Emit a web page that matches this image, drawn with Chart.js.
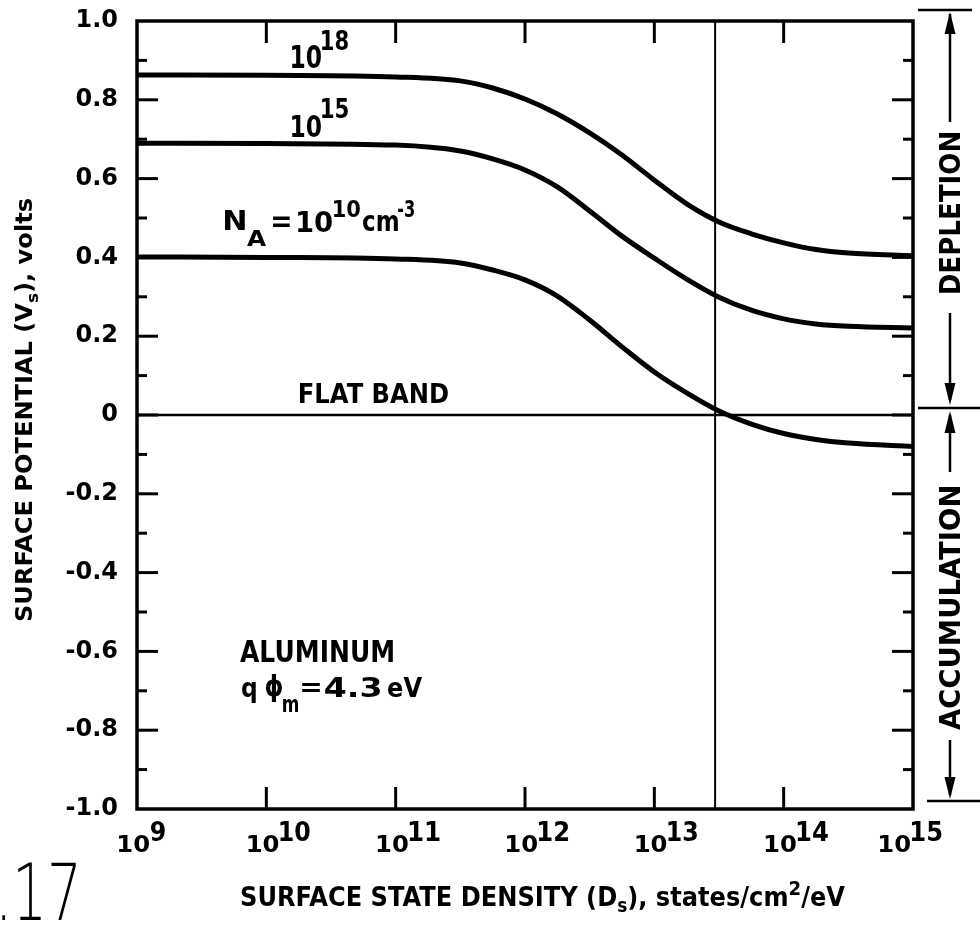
<!DOCTYPE html>
<html>
<head>
<meta charset="utf-8">
<script src="https://cdn.jsdelivr.net/npm/chart.js@4.4.1/dist/chart.umd.min.js"></script>
<style>
  html, body { margin: 0; padding: 0; background: #fff; }
</style>
</head>
<body>
<canvas id="grafica" width="980" height="925"></canvas>
<script>
// exponente de la densidad de estados (10^x)
const densidadExp = [9, 10, 11, 11.5, 11.75, 12, 12.25, 12.5, 12.75, 13, 13.25, 13.5, 13.75, 14, 14.25, 14.5, 15];
// potencial de superficie (V) para cada N_A
const vsNA18 = [0.863, 0.862, 0.858, 0.848, 0.830, 0.802, 0.764, 0.716, 0.660, 0.596, 0.536, 0.490, 0.460, 0.437, 0.420, 0.411, 0.404];
const vsNA15 = [0.690, 0.689, 0.685, 0.670, 0.650, 0.622, 0.579, 0.518, 0.454, 0.398, 0.345, 0.299, 0.266, 0.244, 0.231, 0.225, 0.221];
const vsNA10 = [0.401, 0.400, 0.396, 0.386, 0.368, 0.343, 0.302, 0.241, 0.173, 0.109, 0.056, 0.010, -0.023, -0.047, -0.062, -0.071, -0.080];
const bandaPlana = 0;
const lineaVerticalExp = 13.47;
const xTickExps = [9, 10, 11, 12, 13, 14, 15];
const yTickLabels = ["-1.0", "-0.8", "-0.6", "-0.4", "-0.2", "0", "0.2", "0.4", "0.6", "0.8", "1.0"];

const FUENTE = '"DejaVu Sans"';

function puntos(valores) {
    return densidadExp.map((e, i) => ({ x: Math.pow(10, e), y: valores[i] }));
}

function curva(valores) {
    return {
        data: puntos(valores),
        borderColor: "#000",
        borderWidth: 5,
        pointRadius: 0,
        cubicInterpolationMode: "monotone",
        borderJoinStyle: "round",
        fill: false
    };
}

// encaja la tinta de un texto en el rectangulo (x0,y0)-(x1,y1)
function tinta(ctx, str, x0, y0, x1, y1, fuente) {
    ctx.save();
    ctx.font = fuente || "bold 100px " + FUENTE;
    ctx.textAlign = "left";
    ctx.textBaseline = "alphabetic";
    const m = ctx.measureText(str);
    const w = m.actualBoundingBoxLeft + m.actualBoundingBoxRight;
    const h = m.actualBoundingBoxAscent + m.actualBoundingBoxDescent;
    const sy = (y1 - y0) / h;
    const sx = x1 == null ? sy * 0.9 : (x1 - x0) / w;
    ctx.translate(x0 + m.actualBoundingBoxLeft * sx, y0 + m.actualBoundingBoxAscent * sy);
    ctx.scale(sx, sy);
    ctx.fillStyle = "#000";
    ctx.fillText(str, 0, 0);
    ctx.restore();
    return x0 + w * sx;
}

// linea de texto con sub/superindices, ajustada al ancho x0..x1
function linea(ctx, partes, x0, x1, base, tam) {
    ctx.save();
    ctx.textAlign = "left";
    ctx.textBaseline = "alphabetic";
    ctx.fillStyle = "#000";
    let total = 0;
    const anchos = partes.map(p => {
        ctx.font = "bold " + (tam * p[1]) + "px " + FUENTE;
        const w = ctx.measureText(p[0]).width;
        total += w;
        return w;
    });
    ctx.translate(x0, base);
    ctx.scale((x1 - x0) / total, 1);
    let x = 0;
    partes.forEach((p, i) => {
        ctx.font = "bold " + (tam * p[1]) + "px " + FUENTE;
        ctx.fillText(p[0], x, p[2]);
        x += anchos[i];
    });
    ctx.restore();
}

function flecha(ctx, x, punta, base) {
    ctx.beginPath();
    ctx.moveTo(x, punta);
    ctx.lineTo(x - 5.5, base);
    ctx.lineTo(x + 5.5, base);
    ctx.closePath();
    ctx.fill();
}

function segmento(ctx, x1, y1, x2, y2) {
    ctx.beginPath();
    ctx.moveTo(x1, y1);
    ctx.lineTo(x2, y2);
    ctx.stroke();
}

const decorado = {
    id: "decorado",
    afterDraw(chart) {
        const ctx = chart.ctx;
        const a = chart.chartArea;
        const xs = chart.scales.x;
        const ys = chart.scales.y;
        ctx.save();
        ctx.strokeStyle = "#000";
        ctx.fillStyle = "#000";

        // marco
        ctx.lineWidth = 3.5;
        ctx.strokeRect(a.left, a.top, a.right - a.left, a.bottom - a.top);

        // marcas del eje y (hacia dentro, ambos lados)
        ctx.lineWidth = 3;
        for (let k = -9; k <= 9; k++) {
            const py = ys.getPixelForValue(k / 10);
            const largo = k % 2 === 0 ? 21 : 10;
            segmento(ctx, a.left, py, a.left + largo, py);
            segmento(ctx, a.right - largo, py, a.right, py);
        }
        // marcas del eje x
        xTickExps.forEach((e, i) => {
            const px = xs.getPixelForValue(Math.pow(10, e));
            if (i > 0 && i < xTickExps.length - 1) {
                segmento(ctx, px, a.top, px, a.top + 22);
                segmento(ctx, px, a.bottom - 22, px, a.bottom);
            }
            const dx = i === xTickExps.length - 1 ? -18 : -3;
            const fin = tinta(ctx, "10", px + dx - 15, 835, px + dx + 15, 852);
            tinta(ctx, String(e), fin + 2, 821, null, 841);
        });

        // etiquetas de las curvas
        let f = tinta(ctx, "10", 292, 44, 321, 68);
        tinta(ctx, "18", f + 1, 30, 348, 50);
        f = tinta(ctx, "10", 292, 114, 321, 137);
        tinta(ctx, "15", f + 1, 99, 348, 118);
        tinta(ctx, "N", 225, 210, 245, 230);
        tinta(ctx, "A", 247, 231, 266, 246);
        tinta(ctx, "=", 273, 217, 290, 227);
        tinta(ctx, "10", 298, 210, 332, 232);
        tinta(ctx, "10", 334, 200, 360, 217);
        tinta(ctx, "cm", 363, 215, 398, 231);
        tinta(ctx, "-3", 398, 200, 414, 217);

        tinta(ctx, "FLAT BAND", 300, 383, 448, 403);
        tinta(ctx, "ALUMINUM", 240, 640, 393, 662);
        tinta(ctx, "q", 242, 682, 256, 703);
        tinta(ctx, "\u03D5", 266, 675, 282, 702);
        tinta(ctx, "m", 283, 699, 298, 712);
        tinta(ctx, "=", 302, 683, 320, 692);
        tinta(ctx, "4.3", 325, 677, 380, 697);
        tinta(ctx, "eV", 388, 677, 422, 697);

        // titulos de los ejes
        linea(ctx, [["SURFACE STATE DENSITY (D", 1, 0], ["s", 0.7, 6], ["), states/cm", 1, 0], ["2", 0.75, -11], ["/eV", 1, 0]], 240, 845, 906, 27);
        ctx.save();
        ctx.translate(32, 0);
        ctx.rotate(-Math.PI / 2);
        linea(ctx, [["SURFACE POTENTIAL (V", 1, 0], ["s", 0.7, 6], ["), volts", 1, 0]], -622, -198, 0, 23);
        ctx.restore();

        // agotamiento / acumulacion
        const xf = 950;
        ctx.lineWidth = 2.5;
        segmento(ctx, 918, 10, 972, 10);
        segmento(ctx, xf, 14, xf, 122);
        flecha(ctx, xf, 12, 34);
        segmento(ctx, xf, 313, xf, 400);
        flecha(ctx, xf, 405, 383);
        segmento(ctx, 918, 408, 980, 408);
        flecha(ctx, xf, 411, 433);
        segmento(ctx, xf, 415, xf, 472);
        segmento(ctx, xf, 740, xf, 795);
        flecha(ctx, xf, 799, 777);
        segmento(ctx, 927, 801, 980, 801);
        ctx.save();
        ctx.translate(xf + 10, 0);
        ctx.rotate(-Math.PI / 2);
        tinta(ctx, "DEPLETION", -293, -21, -133, 0);
        tinta(ctx, "ACCUMULATION", -730, -21, -487, 0);
        ctx.restore();

        // numero de figura (recortado)
        tinta(ctx, ".17", 2, 862, 76, 920, "200 100px " + FUENTE);

        ctx.restore();
    }
};

const data = {
    datasets: [
        curva(vsNA18),
        curva(vsNA15),
        curva(vsNA10),
        {
            data: [{ x: Math.pow(10, xTickExps[0]), y: bandaPlana }, { x: Math.pow(10, xTickExps[xTickExps.length - 1]), y: bandaPlana }],
            borderColor: "#000",
            borderWidth: 2.5,
            pointRadius: 0
        },
        {
            data: [{ x: Math.pow(10, lineaVerticalExp), y: -1 }, { x: Math.pow(10, lineaVerticalExp), y: 1 }],
            borderColor: "#000",
            borderWidth: 2,
            pointRadius: 0
        }
    ]
};

const config = {
    type: "line",
    data: data,
    plugins: [decorado],
    options: {
        responsive: false,
        animation: false,
        layout: {
            padding: { left: 0, top: 21, right: 67, bottom: 116 }
        },
        plugins: {
            legend: { display: false },
            tooltip: { enabled: false }
        },
        scales: {
            x: {
                type: "logarithmic",
                min: Math.pow(10, xTickExps[0]),
                max: Math.pow(10, xTickExps[xTickExps.length - 1]),
                ticks: { display: false },
                grid: { display: false, drawTicks: false },
                border: { display: false },
                afterFit: function (scale) {
                    scale.height = 0;
                    scale.paddingLeft = 0;
                    scale.paddingRight = 0;
                }
            },
            y: {
                type: "linear",
                min: -1,
                max: 1,
                ticks: {
                    stepSize: 0.2,
                    color: "#000",
                    padding: 19,
                    font: { family: "DejaVu Sans", weight: "bold", size: 24 },
                    callback: function (value, index) { return yTickLabels[index]; }
                },
                grid: { display: false, drawTicks: false },
                border: { display: false },
                afterFit: function (scale) {
                    scale.width = 137;
                    scale.paddingTop = 0;
                    scale.paddingBottom = 0;
                }
            }
        }
    }
};

const ctx = document.querySelector("#grafica");
const grafica = new Chart(ctx, config);
</script>
</body>
</html>
